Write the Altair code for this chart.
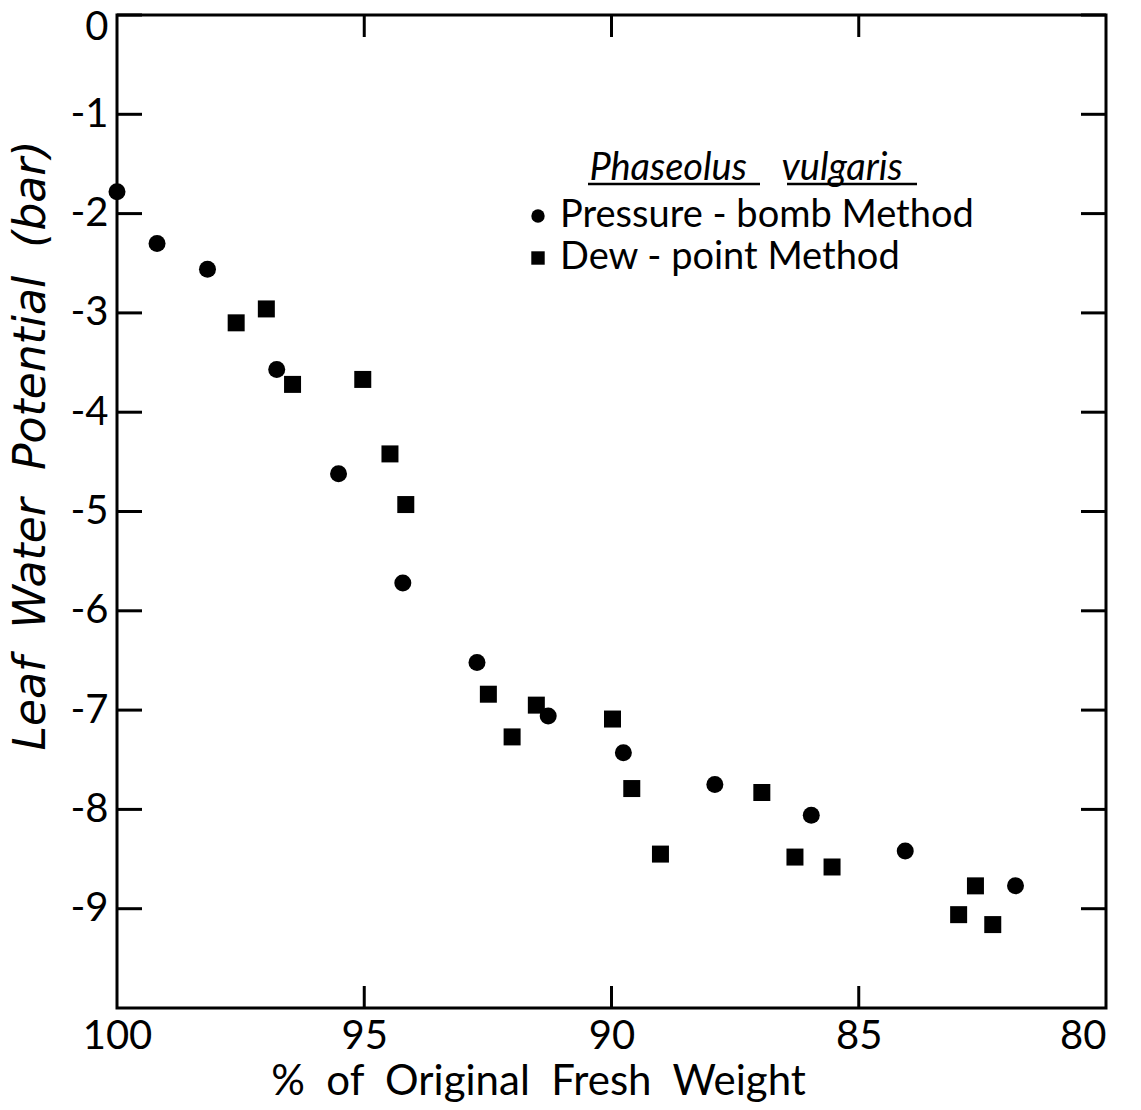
import altair as alt
import pandas as pd

# Pressure-bomb method (circles)
pb_x = [100.0, 99.19, 98.17, 96.77, 95.52, 94.22, 92.72, 91.28, 89.76, 87.91, 85.96, 84.06, 81.83]
pb_y = [-1.78, -2.30, -2.56, -3.57, -4.62, -5.72, -6.52, -7.06, -7.43, -7.75, -8.06, -8.42, -8.77]

# Dew-point method (squares)
dp_x = [97.59, 96.98, 96.45, 95.03, 94.48, 94.16, 92.49, 92.01, 91.52, 89.98, 89.59, 89.01,
        86.96, 86.29, 85.54, 82.98, 82.64, 82.29]
dp_y = [-3.10, -2.96, -3.72, -3.67, -4.42, -4.93, -6.84, -7.27, -6.95, -7.09, -7.79, -8.45,
        -7.83, -8.48, -8.58, -9.06, -8.77, -9.16]

methods = ["Pressure - bomb Method", "Dew - point Method"]
x_ticks = [100, 95, 90, 85, 80]
x_inner_ticks = [95, 90, 85]
y_ticks = [0, -1, -2, -3, -4, -5, -6, -7, -8, -9]

NB = "\u00a0"
W, H = 989, 993
FONT = "Lato"

df = pd.DataFrame({
    "x": pb_x + dp_x,
    "y": pb_y + dp_y,
    "method": [methods[0]] * len(pb_x) + [methods[1]] * len(dp_x),
})

xscale = alt.Scale(domain=[100, 80], nice=False, zero=False)
yscale = alt.Scale(domain=[-10, 0], nice=False, zero=False)

points = alt.Chart(df).mark_point(filled=True, opacity=1, color="black", size=289).encode(
    x=alt.X("x:Q", scale=xscale,
            axis=alt.Axis(values=x_ticks, ticks=False, domain=False, grid=False, labelFlush=False,
                          labelAlign={"condition": {"test": "datum.value == 80", "value": "right"},
                                      "value": "center"},
                          labelFontSize=40, labelPadding=8, labelFont=FONT, labelColor="black",
                          title=f"%{NB}{NB}of{NB}{NB}Original{NB}{NB}Fresh{NB}{NB}Weight",
                          titleFont=FONT, titleFontSize=42, titleX=421,
                          titleFontWeight="normal", titleColor="black", titlePadding=5)),
    y=alt.Y("y:Q", scale=yscale,
            axis=alt.Axis(values=y_ticks, ticks=False, domain=False, grid=False,
                          labelFlush=True, labelFlushOffset=8,
                          labelExpr="'' + datum.value",
                          labelFontSize=40, labelPadding=9, labelFont=FONT, labelColor="black",
                          title=f"Leaf{NB}{NB}Water{NB}{NB}Potential{NB}{NB}(bar)",
                          titleFont="DejaVu Sans", titleFontSize=44, titleY=430,
                          titleFontStyle="italic", titleFontWeight="normal", titleColor="black",
                          titlePadding=16)),
    shape=alt.Shape("method:N", scale=alt.Scale(domain=methods, range=["circle", "square"]),
                    legend=alt.Legend(
                        title=f"Phaseolus{NB}{NB}{NB}{NB}vulgaris", titleFont=FONT, titleFontSize=38,
                        titleFontStyle="italic", titleFontWeight="normal", titleColor="black",
                        titleAnchor="middle", titlePadding=9, titleLimit=0,
                        labelFont=FONT, labelFontSize=38, labelColor="black", labelOffset=3,
                        labelLimit=0,
                        symbolSize=180, symbolFillColor="black", symbolStrokeColor="black",
                        symbolType="circle", rowPadding=4,
                        orient="none", legendX=402, legendY=135, padding=0)),
)

xt = pd.DataFrame({"v": x_inner_ticks})
yt = pd.DataFrame({"v": y_ticks})

x_bottom = alt.Chart(xt).mark_rule(color="black", strokeWidth=3).encode(
    x=alt.X("v:Q", scale=xscale), y=alt.value(H), y2=alt.value(H - 22))
x_top = alt.Chart(xt).mark_rule(color="black", strokeWidth=3).encode(
    x=alt.X("v:Q", scale=xscale), y=alt.value(0), y2=alt.value(22))
y_left = alt.Chart(yt).mark_rule(color="black", strokeWidth=3).encode(
    y=alt.Y("v:Q", scale=yscale), x=alt.value(0), x2=alt.value(25))
y_right = alt.Chart(yt).mark_rule(color="black", strokeWidth=3).encode(
    y=alt.Y("v:Q", scale=yscale), x=alt.value(W - 25), x2=alt.value(W))

# underlines of the species name in the legend title
ul = pd.DataFrame({"a": [471, 670], "b": [643, 800]})
underline = alt.Chart(ul).mark_rule(color="black", strokeWidth=2.5).encode(
    x=alt.X("a:Q", scale=None), x2="b:Q", y=alt.value(169))

chart = alt.layer(points, x_bottom, x_top, y_left, y_right, underline).properties(
    width=W, height=H,
    autosize=alt.AutoSizeParams(type="none"),
    padding={"left": 117, "top": 15, "right": 35, "bottom": 102},
).configure(background="white").configure_view(stroke="black", strokeWidth=3)

chart.save("out.html", embed_options={"renderer": "svg", "actions": False})
